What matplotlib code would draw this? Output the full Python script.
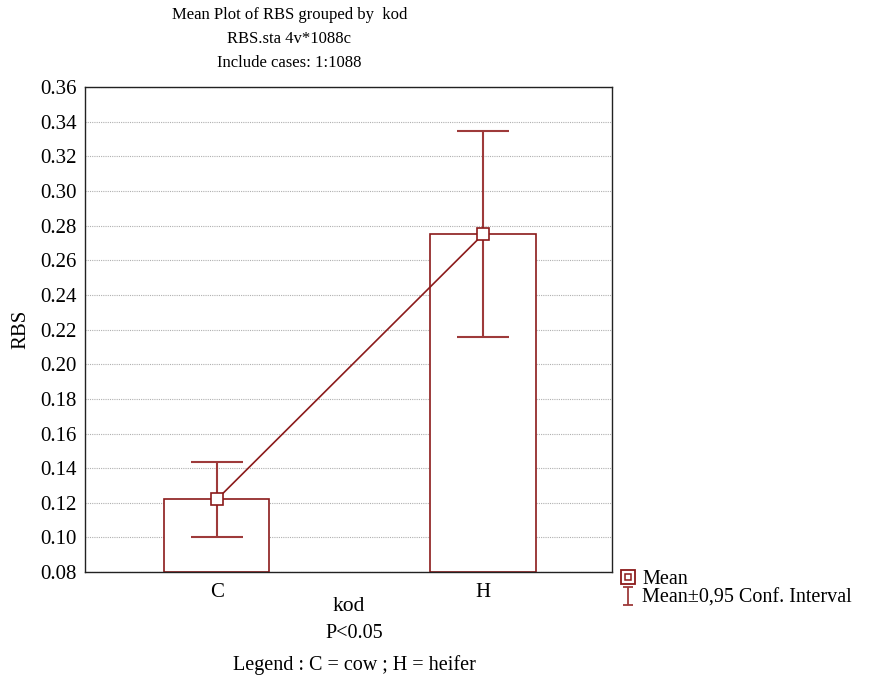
import matplotlib
matplotlib.use("Agg")
import matplotlib.pyplot as plt
from matplotlib.lines import Line2D
from matplotlib.path import Path

plt.rcParams['font.family'] = ['Liberation Serif', 'DejaVu Serif']

categories = ["C", "H"]
means = [0.122, 0.275]
ci_low = [0.100, 0.2155]
ci_high = [0.1435, 0.3348]
yticks = [0.08, 0.10, 0.12, 0.14, 0.16, 0.18, 0.20, 0.22, 0.24, 0.26, 0.28, 0.30, 0.32, 0.34, 0.36]

dark = '#8B1A1A'
err_c = '#9E3A3A'

fig = plt.figure(figsize=(8.69, 6.81), dpi=100)
ax = fig.add_axes([0.0978, 0.160, 0.6065, 0.712])

x = list(range(len(categories)))
base = yticks[0]
ax.bar(x, [m - base for m in means], bottom=base, width=0.395,
       facecolor='white', edgecolor=dark, linewidth=1.2, zorder=2)
yerr = [[m - l for m, l in zip(means, ci_low)], [h - m for m, h in zip(means, ci_high)]]
ax.errorbar(x, means, yerr=yerr, fmt='none', ecolor=err_c, elinewidth=1.5,
            capsize=19, capthick=1.5, zorder=3)
ax.plot(x, means, color=dark, linewidth=1.2, marker='s', markersize=8,
        markerfacecolor='white', markeredgecolor=dark, markeredgewidth=1.2, zorder=4)

ax.set_xlim(-0.496, 1.485)
ax.set_ylim(0.08, 0.36)
ax.set_yticks(yticks)
ax.set_yticklabels([f"{v:.2f}" for v in yticks])
ax.set_xticks(x)
ax.set_xticklabels(categories)
ax.tick_params(axis='y', length=0, labelsize=15, pad=6)
ax.tick_params(axis='x', direction='in', length=4, labelsize=15, pad=8)
ax.yaxis.grid(True, linestyle=(0, (1, 1)), color='#b0b0b0', linewidth=0.8)
ax.set_axisbelow(True)
for s in ax.spines.values():
    s.set_color('#222222')
    s.set_linewidth(1.0)

ax.set_ylabel("RBS", fontsize=15, labelpad=7)
ax.set_xlabel("kod", fontsize=15.5, labelpad=-4)

fig.text(0.333, 0.978, "Mean Plot of RBS grouped by  kod", ha='center', va='center', fontsize=12)
fig.text(0.333, 0.942, "RBS.sta 4v*1088c", ha='center', va='center', fontsize=12)
fig.text(0.333, 0.907, "Include cases: 1:1088", ha='center', va='center', fontsize=12)
fig.text(0.408, 0.070, "P<0.05", ha='center', va='center', fontsize=14.5)
fig.text(0.408, 0.023, "Legend : C = cow ; H = heifer", ha='center', va='center', fontsize=14.5)

outer = Line2D([], [], linestyle='none', marker='s', markersize=10, markerfacecolor='white',
               markeredgecolor=dark, markeredgewidth=1.3)
inner = Line2D([], [], linestyle='none', marker='s', markersize=5, markerfacecolor='white',
               markeredgecolor=dark, markeredgewidth=1.1)
ipath = Path([(-0.5, 1), (0.5, 1), (0, 1), (0, -1), (-0.5, -1), (0.5, -1)],
             [Path.MOVETO, Path.LINETO, Path.MOVETO, Path.LINETO, Path.MOVETO, Path.LINETO])
ci_handle = Line2D([], [], linestyle='none', marker=ipath, markersize=13,
                   markerfacecolor='none', markeredgecolor=err_c, markeredgewidth=1.3)
fig.legend([(outer, inner), ci_handle], ["Mean", "Mean\u00b10,95 Conf. Interval"], loc='upper left',
           bbox_to_anchor=(0.702, 0.178), frameon=False, fontsize=14.5,
           handlelength=0.8, handletextpad=0.3, labelspacing=0.0, borderpad=0)

fig.savefig("out.png", dpi=100)
